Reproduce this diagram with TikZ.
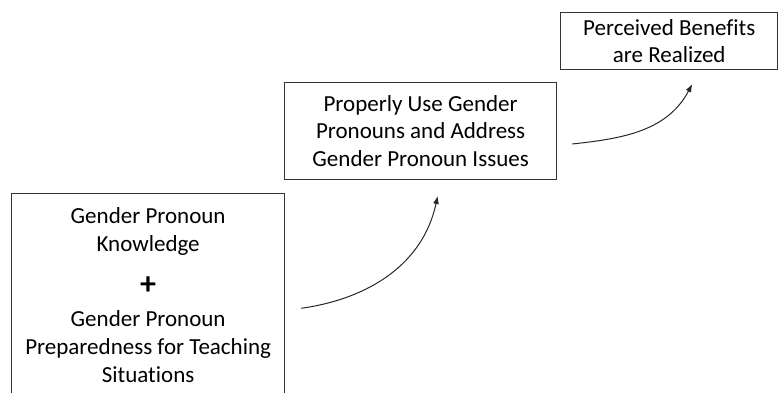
\documentclass[tikz,border=0pt]{standalone}
\usepackage{fontspec}
\setmainfont[Ligatures=NoCommon]{Carlito}
\usepackage{tikz}
\usetikzlibrary{arrows.meta}

\begin{document}
\begin{tikzpicture}[x=1bp, y=1bp,
  stage/.style = {draw=black!80, line width=1.3bp, align=center, inner sep=0pt,
                  font=\fontsize{23bp}{27.5bp}\selectfont},
  flow/.style  = {draw=black!85, line width=1bp, -{Latex[length=8bp, width=6bp]}}]
\pgfmathsetmacro{\gap}{16} % Change me
\useasboundingbox (0,0) rectangle (780,-392);
\clip (0,0) rectangle (780,-392);
\node[stage, anchor=north west, minimum width=274, minimum height=204,
      font=\fontsize{23bp}{28bp}\selectfont] (base) at (11,-193)
  {Gender Pronoun\\Knowledge\\[15bp]{\bfseries\fontsize{32bp}{32bp}\selectfont +}\\[4bp]Gender Pronoun\\Preparedness for Teaching\\Situations};
\node[stage, anchor=north west, minimum width=273, minimum height=97] (use) at (284,-82)
  {Properly Use Gender\\Pronouns and Address\\Gender Pronoun Issues};
\node[stage, anchor=north west, minimum width=218, minimum height=57] (real) at (560,-12)
  {Perceived Benefits\\are Realized};
\draw[flow] ([shift={(\gap,-13)}]base.east) to[out=8, in=-102] ([shift={(17,-\gap)}]use.south);
\draw[flow] ([shift={(15,-13)}]use.east) to[out=6, in=-118] ([shift={(23,-14)}]real.south);
\end{tikzpicture}
\end{document}
